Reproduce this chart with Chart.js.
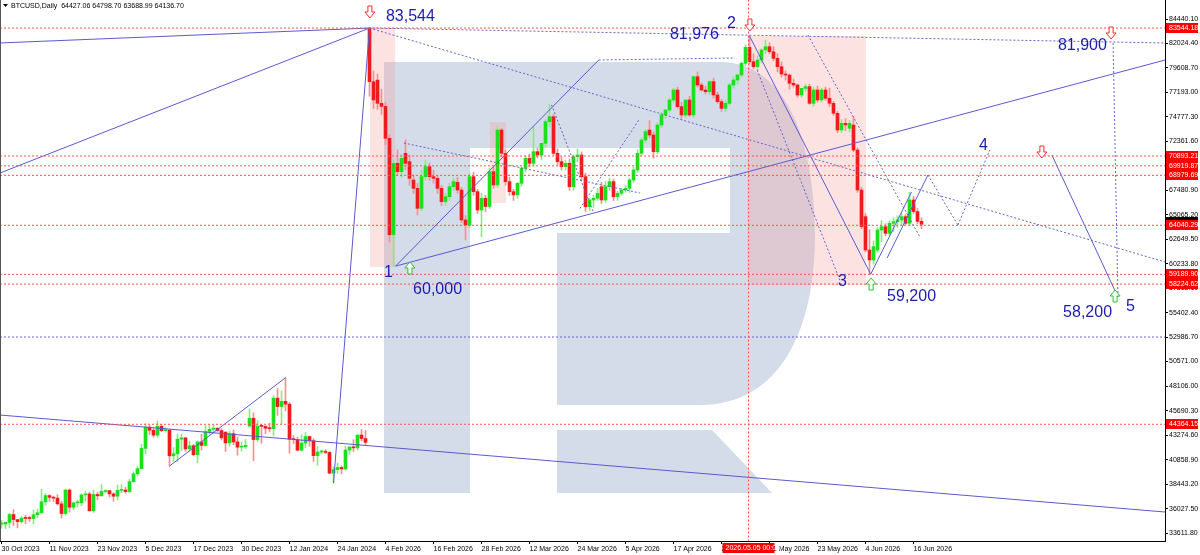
<!DOCTYPE html>
<html>
<head>
<meta charset="utf-8">
<script src="https://cdn.jsdelivr.net/npm/chart.js@4.4.1/dist/chart.umd.min.js"></script>
<style>
  html, body { margin: 0; padding: 0; background: #fff; }
</style>
</head>
<body>
<canvas id="chart" width="1200" height="555"></canvas>
<script>
// BTCUSD daily: tanggal tiap 12 bar, harga di sumbu kanan
const xTickLabels = ['30 Oct 2023', '11 Nov 2023', '23 Nov 2023', '5 Dec 2023', '17 Dec 2023', '30 Dec 2023',
  '12 Jan 2024', '24 Jan 2024', '4 Feb 2026', '16 Feb 2026', '28 Feb 2026', '12 Mar 2026', '24 Mar 2026',
  '5 Apr 2026', '17 Apr 2026', '29 Apr 2026', '11 May 2026', '23 May 2026', '4 Jun 2026', '16 Jun 2026'];
const yTickValues = [84440.10, 82024.40, 79608.70, 77193.00, 74777.30, 72361.60, 69945.90, 67480.90, 65065.20,
  62649.50, 60233.80, 57818.10, 55402.40, 52986.70, 50571.00, 48106.00, 45690.30, 43274.60, 40858.90,
  38443.20, 36027.50, 33611.80];

// [open, high, low, close]
const candles2023 = [
  [34500,34850,34080,34500],[34500,34720,34050,34670],[34660,35560,34110,35440],[35440,35920,34360,34940],
  [34940,34940,34120,34730],[34730,35250,34580,35080],[35080,35380,34540,35050],[35050,35270,34750,35040],
  [35040,35880,34530,35420],[35420,35980,35120,35620],[35620,37930,35530,36700],[36700,37500,36360,37310],
  [37310,37410,36740,37140],[37140,37220,36700,37060],[37060,37410,36360,36500],[36500,36760,35100,35540],
  [35540,37960,35380,37860],[37860,37990,35680,36160],[36160,36700,35900,36590],[36590,36850,36180,36590],
  [36590,37500,36300,37380],[37380,37720,36760,37470],[37470,37650,35780,35810],[35810,37870,35650,37420],
  [37420,37640,36900,37290],[37290,38400,37250,37720],[37720,37890,37600,37800],[37800,37830,37160,37480],
  [37480,37580,36750,37250],[37250,38350,36880,37830],[37830,38400,37600,37860],[37860,38140,37530,37710],
  [37710,38950,37630,38690],[38690,39650,38650,39460],[39460,40170,39300,39970],[39970,42370,39970,41980],
  [41980,44410,41420,44080],[44080,44270,43340,43770],[43770,44040,43080,43290],[43290,44700,43080,44170],
  [44170,44350,43630,43730],[43730,44040,43590,43790],[43790,43800,40230,41240],[41240,42050,40680,41450],
  [41450,43400,40670,42890],[42890,43390,41770,43020],[43020,43080,41690,41930],[41930,42700,41720,42240],
  [42240,42400,41260,41360],[41360,42720,40550,42620],[42620,43380,41810,42270],[42270,44240,42210,43650],
  [43650,44280,43340,43870],[43870,44350,43430,43980],[43980,44000,43620,43740],[43740,43940,42820,43020],
  [43590,43600,41680,42520],[42520,43680,42170,43440],[43440,43800,42330,42620],[42620,43100,41300,42100],
  [42100,42600,41710,42140],[42140,42860,41970,42280],[44180,45880,44150,44960],[44960,45500,40750,42850],
  [42850,44730,42630,44180],[44180,44340,42470,44160],[44160,44230,43440,43970],[43970,44480,43600,43930],
  [43930,47200,43230,46950],[46950,47890,45240,46110],[46110,47650,44330,46630],[46630,48970,45680,46350],
  [46350,46500,41500,42890],[42890,43250,42440,42840],[42840,43080,41720,41800],[41800,43330,41720,42510],
  [42510,43550,42050,43150],[43150,43190,42200,42740],[42740,42930,40680,41260],[41260,42160,40300,41620],
  [41620,41840,41440,41670],[41670,41860,41450,41580],[41580,41680,39480,39530],[39530,40170,38550,39880],
  [39880,40520,39510,40090],[40090,40270,39440,39950],[39950,42200,39830,41820],[41820,42180,41400,42120],
  [42120,42830,41660,42030],[42030,43310,41820,43300],[43300,43850,42700,42950],[42950,43750,42300,42580]
];
const candles2026 = [
  [83544,83544,76800,78240],[78240,79300,75600,76430],[78400,79000,75500,76100],[76100,77500,75000,75800],
  [75800,76200,72000,72640],[72640,73000,62400,63100],[63100,70500,60000,70170],[70170,71500,69000,69344],
  [69344,71000,68800,70662],[71157,72500,69500,70168],[70333,71000,68000,68685],[68520,69000,67200,67696],
  [67696,68200,65060,65718],[65718,69500,65500,68850],[68850,70500,68500,69839],[69839,70200,68500,68850],
  [68850,69500,68200,68685],[68685,69000,67200,67696],[67696,68000,66000,66378],[66378,67200,66000,66872],
  [66872,68200,66500,67861],[67861,68700,67500,68356],[68290,68800,67200,67531],[67531,67800,64300,64565],
  [64565,65000,62587,64070],[64070,69200,63800,68850],[68850,69300,67000,67366],[67366,67600,65200,65553],
  [65553,67200,62900,66707],[66707,67000,65400,65900],[65900,69700,65700,69344],[69344,69800,67700,68026],
  [68026,73800,67800,73464],[73464,73600,70800,71157],[71157,71500,68000,68356],[68356,68800,67000,67366],
  [67366,67600,66500,67050],[67050,68300,66700,68190],[68190,69800,67900,69674],[69674,70900,69300,70662],
  [70662,71100,69800,70168],[70168,73800,69900,71322],[71322,71700,70700,70993],[70993,72000,70500,72146],
  [72146,74500,71800,74288],[74288,75950,73800,74782],[74782,75000,71000,71157],[71157,71600,70000,70333],
  [70333,70800,69500,69839],[69839,70500,69500,70168],[70168,70600,67500,67861],[67861,71000,67500,70827],
  [70827,71600,70300,70993],[70993,71300,68500,68850],[68850,69200,65400,65883],[65883,66700,65500,66543],
  [66543,67000,65800,66707],[66707,67700,66500,67200],[67861,68300,66200,66543],[66543,68400,66300,67861],
  [67861,68700,67500,68356],[68356,68600,66500,66872],[66872,67400,66500,67200],[67200,67700,67000,67531],
  [67531,68000,67300,67696],[67696,68700,67300,68520],[68520,69800,68300,69510],[69510,71500,69300,71157],
  [71157,72700,70900,72476],[72476,73500,72200,73300],[73464,74400,72700,72970],[72970,73300,70670,71322],
  [71322,74200,71100,73958],[73958,75200,73700,74947],[74947,75500,74600,75442],[75442,76600,75200,76431],
  [76431,77600,76200,77420],[77420,77700,75600,75772],[75772,76200,74500,74947],[74947,76300,74700,76431],
  [76431,76800,74800,74947],[74947,78800,74700,78738],[78738,79200,77700,77914],[77914,78100,77300,77420],
  [77420,77800,77000,77250],[77250,78300,77000,78250],[78250,78600,76600,76925],[76925,77200,76100,76266],
  [76266,76500,75300,75600],[75600,76400,75300,76100],[76100,78100,75900,77914],[77914,78700,77600,78409],
  [78409,79000,78000,78903],[78903,80200,78700,80056],[80056,81900,79800,81638],[81638,82800,80000,80221],
  [80221,81000,79500,79727],[79727,80800,79400,80386],[80386,81500,80100,81380],[81380,82350,81000,81700],
  [81700,82100,81000,81200],[81200,81700,80300,80550],[80550,81000,79200,79727],[79727,80200,78700,79000],
  [79000,79300,78400,78900],[78900,79000,77500,78080],[78080,78500,77700,77914],[77914,78000,76700,76925],
  [76925,77600,76700,77580],[77580,78000,77300,77750],[77750,78000,76000,76100],[76100,77700,75800,77420],
  [77420,77800,76200,76431],[76431,77600,76200,77420],[77420,77700,76400,76596],[76596,77600,75800,76101],
  [76101,76300,74900,75112],[75112,75300,73200,73464],[73464,74500,73200,74123],[74123,74600,73400,73958],
  [73629,74400,73300,74123],[73958,74800,71300,71487],[71487,71700,67300,67531],[67531,67800,63700,63905],
  [64894,65200,61400,61598],[61598,63600,59200,60610],[60610,62500,60200,61928],[61598,63800,61400,63576],
  [63576,64500,62400,63905],[63905,64200,63000,63246],[63246,64500,63000,64235],[64235,64800,63400,64400],
  [64400,65000,63800,64565],[64565,65200,64000,64894],[64894,65100,64100,64235],[64235,67300,64000,66543],
  [66543,66900,65200,65400],[65400,65700,64200,64427],[64427,64799,63689,64137]
];
const candles = candles2023.concat(candles2026);

// level horizontal merah (label di sumbu)
const priceLevels = [83544.18, 70893.21, 69919.87, 68979.69, 64040.29, 59189.90, 58224.62, 44364.15];
const lastPrice = 64136.70;
const vLineIndex = 186.75;

// garis analisa: [bar1, harga1, bar2, harga2]
const solidLines = [
  [-0.375, 82070, 92, 83544], [-0.375, 69211, 92, 83544], [83, 38550, 92, 83544],
  [-0.375, 45279, 290.9, 35686], [42, 40230, 71, 48970],
  [98.5, 60000, 149.3, 80386], [98.5, 60000, 290.9, 80386],
  [187, 82760, 217.3, 59200], [217.3, 59200, 227.5, 67330], [221.4, 60800, 231.6, 69010],
  [262.6, 70990, 279.1, 56950]
];
const dottedLines = [
  [92, 83544, 290.9, 82067], [92, 83544, 290.9, 60409], [149.3, 80386, 183.4, 80583],
  [-0.375, 52993, 290.9, 52993], [100.6, 72178, 159.6, 67233],
  [137.5, 75950, 148, 65300], [144.6, 65700, 159.6, 74600],
  [188.9, 79400, 209.6, 58600], [201.6, 82860, 229.6, 62890],
  [231.6, 69010, 239.1, 64070], [239.1, 64070, 247.1, 71486],
  [279.1, 56950, 277.9, 82067]
];
// zona merah muda: [bar1, bar2, hargaAtas, hargaBawah]
const pinkZones = [[92.1, 98.4, 83544, 59915], [122.1, 126.1, 74254, 66244], [186.6, 216.1, 82759, 58136]];
// teks gelombang: [bar kiri, harga tengah, teks]
const waveLabels = [
  [96.1, 84638, '83,544'], [167.1, 82858, '81,976'], [181.4, 83946, '2'], [95.6, 59322, '1'],
  [102.9, 57641, '60,000'], [209.1, 58433, '3'], [221.4, 56948, '59,200'], [244.4, 71881, '4'],
  [264.1, 81770, '81,900'], [265.4, 55366, '58,200'], [281.1, 55959, '5']
];
const downArrows = [[92.1, 85132], [187.1, 83847], [260.1, 71288], [277.4, 83056]];
const upArrows = [[102.1, 59817], [217.4, 58234], [278.4, 57047]];

const GREEN = '#1be01b', GREEN_WICK = '#8aea8a', RED = '#ee1c1c', RED_WICK = '#ff8f8f';
const isUp = c => c[3] >= c[0];

function seg(s, dotted, color) {
  return {
    type: 'line',
    data: [{ x: s[0], y: s[1] }, { x: s[2], y: s[3] }],
    borderColor: color, borderWidth: 1, borderDash: dotted ? [2, 2] : [],
    pointRadius: 0, order: 1, clip: 0
  };
}

const datasets = [
  {
    type: 'bar', label: 'wick', order: 10, grouped: false, barThickness: 1,
    data: candles.map((c, i) => ({ x: i, y: [c[2], c[1]] })),
    backgroundColor: candles.map(c => isUp(c) ? GREEN_WICK : RED_WICK)
  },
  {
    type: 'bar', label: 'body', order: 9, grouped: false, barThickness: 3, minBarLength: 1,
    data: candles.map((c, i) => ({ x: i, y: [c[0], c[3]] })),
    backgroundColor: candles.map(c => isUp(c) ? GREEN : RED)
  }
];
priceLevels.forEach(p => datasets.push(seg([-0.375, p, 290.9, p], true, '#ff5050')));
datasets.push(seg([vLineIndex, 30000, vLineIndex, 90000], true, '#ff5050'));
solidLines.forEach(s => datasets.push(seg(s, false, '#5a5ad2')));
dottedLines.forEach(s => datasets.push(seg(s, true, '#6464cc')));

function drawLogo(ctx) {
  ctx.fillStyle = '#d3dce8';
  ctx.fillRect(384, 62, 86, 431);
  ctx.beginPath();
  ctx.moveTo(470, 62);
  ctx.lineTo(720, 62);
  ctx.bezierCurveTo(790, 62, 815, 150, 815, 235);
  ctx.bezierCurveTo(815, 330, 780, 405, 700, 405);
  ctx.lineTo(557, 405);
  ctx.lineTo(557, 233);
  ctx.lineTo(730, 233);
  ctx.lineTo(730, 148);
  ctx.lineTo(470, 148);
  ctx.closePath();
  ctx.fill();
  ctx.beginPath();
  ctx.moveTo(557, 430);
  ctx.lineTo(712, 430);
  ctx.lineTo(772, 493);
  ctx.lineTo(557, 493);
  ctx.closePath();
  ctx.fill();
}

function arrow(ctx, cx, cy, down, color) {
  const d = down ? 1 : -1;
  ctx.beginPath();
  ctx.moveTo(cx - 2, cy - 6 * d);
  ctx.lineTo(cx + 2, cy - 6 * d);
  ctx.lineTo(cx + 2, cy);
  ctx.lineTo(cx + 5, cy);
  ctx.lineTo(cx, cy + 6 * d);
  ctx.lineTo(cx - 5, cy);
  ctx.lineTo(cx - 2, cy);
  ctx.closePath();
  ctx.fillStyle = '#fff';
  ctx.fill();
  ctx.strokeStyle = color;
  ctx.lineWidth = 1;
  ctx.stroke();
}

function axisBox(ctx, x, yMid, w, text, bg) {
  ctx.fillStyle = bg;
  ctx.fillRect(x, Math.round(yMid) - 5, w, 10);
  ctx.fillStyle = '#fff';
  ctx.font = '7px "Liberation Sans"';
  ctx.textBaseline = 'middle';
  ctx.textAlign = 'left';
  ctx.fillText(text, x + 3, Math.round(yMid) + 0.5);
}

const overlay = {
  id: 'overlay',
  beforeDatasetsDraw(chart) {
    const { ctx, chartArea: a, scales: { x, y } } = chart;
    ctx.save();
    ctx.beginPath();
    ctx.rect(a.left, a.top, a.right - a.left, a.bottom - a.top);
    ctx.clip();
    drawLogo(ctx);
    ctx.fillStyle = 'rgba(250,160,160,0.3)';
    pinkZones.forEach(z => {
      const x1 = x.getPixelForValue(z[0]), x2 = x.getPixelForValue(z[1]);
      const y1 = y.getPixelForValue(z[2]), y2 = y.getPixelForValue(z[3]);
      ctx.fillRect(x1, y1, x2 - x1, y2 - y1);
    });
    ctx.restore();
  },
  afterDraw(chart) {
    const { ctx, chartArea: a, scales: { x, y } } = chart;
    ctx.save();
    // garis tepi kiri
    ctx.fillStyle = '#555';
    ctx.fillRect(0, 0, 1, a.bottom);
    // teks gelombang
    ctx.fillStyle = '#1c1cb0';
    ctx.font = '16px "Liberation Sans"';
    ctx.textBaseline = 'middle';
    ctx.textAlign = 'left';
    waveLabels.forEach(l => ctx.fillText(l[2], x.getPixelForValue(l[0]), y.getPixelForValue(l[1])));
    downArrows.forEach(p => arrow(ctx, x.getPixelForValue(p[0]), y.getPixelForValue(p[1]), true, '#ee3030'));
    upArrows.forEach(p => arrow(ctx, x.getPixelForValue(p[0]), y.getPixelForValue(p[1]), false, '#30c030'));
    // label harga di sumbu
    axisBox(ctx, a.right, y.getPixelForValue(lastPrice) - 2, 33, '', '#000');
    priceLevels.forEach(p => axisBox(ctx, a.right + 1, y.getPixelForValue(p), 32, p.toFixed(2), '#ff0000'));
    // label tanggal garis vertikal
    const vx = x.getPixelForValue(vLineIndex);
    axisBox(ctx, vx - 26, a.bottom + 6.5, 52, '2026.05.05 00:00', '#ff0000');
    // header
    ctx.fillStyle = '#000';
    ctx.beginPath();
    ctx.moveTo(3, 4); ctx.lineTo(8, 4); ctx.lineTo(5.5, 7); ctx.closePath(); ctx.fill();
    ctx.font = '7px "Liberation Sans"';
    ctx.textBaseline = 'middle';
    ctx.fillText('BTCUSD,Daily  64427.06 64798.70 63688.99 64136.70', 11, 6);
    ctx.restore();
  }
};

new Chart(document.getElementById('chart'), {
  type: 'bar',
  data: { datasets },
  plugins: [overlay],
  options: {
    responsive: false,
    animation: false,
    events: [],
    layout: { padding: 0 },
    plugins: { legend: { display: false }, tooltip: { enabled: false } },
    scales: {
      x: {
        type: 'linear', offset: false, min: -0.375, max: 290.875,
        grid: { offset: false, drawOnChartArea: false, tickLength: 3, color: '#000' },
        border: { color: '#000' },
        afterBuildTicks: s => { s.ticks = xTickLabels.map((_, k) => ({ value: k * 12 })); },
        afterFit: s => { s.height = 14; s.paddingLeft = 0; s.paddingRight = 0; },
        ticks: {
          autoSkip: false, maxRotation: 0, align: 'start', padding: 1, color: '#000',
          font: { family: 'Liberation Sans', size: 7 },
          callback: (v, i) => xTickLabels[i]
        }
      },
      y: {
        type: 'linear', position: 'right', beginAtZero: false, min: 32821, max: 86319,
        grid: { drawOnChartArea: false, tickLength: 3, color: '#000' },
        border: { color: '#000' },
        afterBuildTicks: s => { s.ticks = yTickValues.map(v => ({ value: v })); },
        afterFit: s => { s.width = 35; s.paddingTop = 0; s.paddingBottom = 0; },
        ticks: {
          padding: 1, color: '#000',
          font: { family: 'Liberation Sans', size: 7 },
          callback: v => Number(v).toFixed(2)
        }
      }
    }
  }
});
</script>
</body>
</html>
